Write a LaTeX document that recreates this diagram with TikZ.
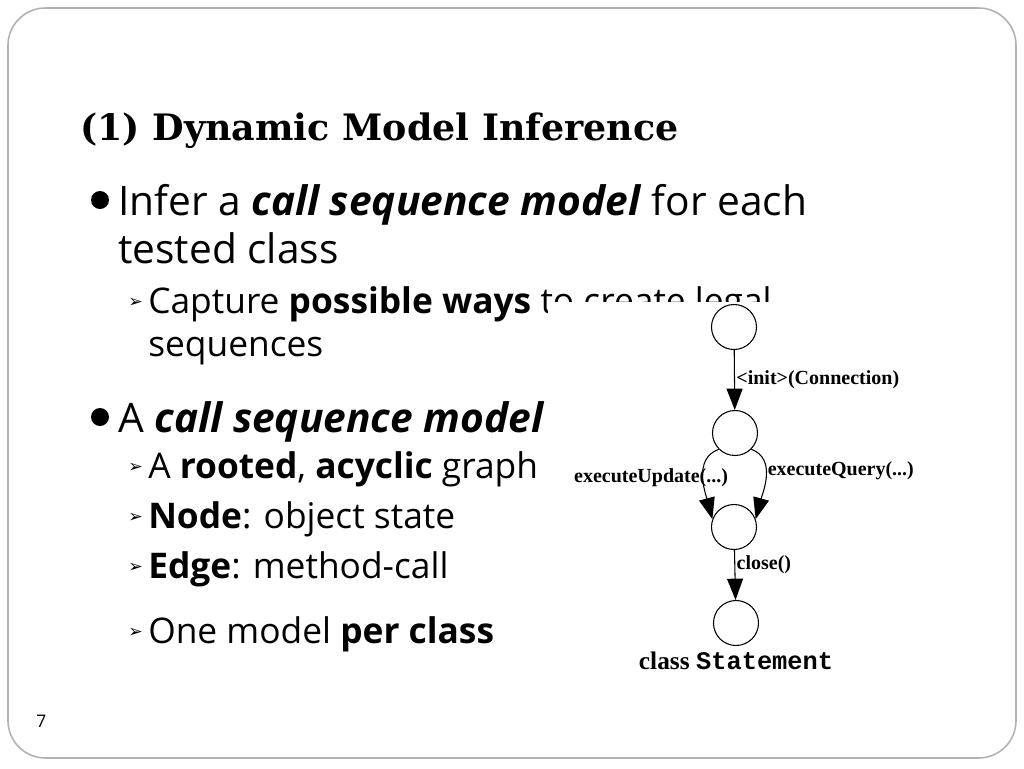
\documentclass[tikz,border=0pt]{standalone}
\usepackage{fontspec}
\setmainfont{Open Sans}
\newfontfamily\titlefont{DejaVu Serif}
\newfontfamily\figfont{Liberation Serif}
\newfontfamily\figmono{Liberation Mono}
\newfontfamily\symfont{DejaVu Sans}
\usetikzlibrary{arrows.meta,positioning}
\newlength{\px}\setlength{\px}{0.75pt}
\tikzset{
  txt/.style={anchor=base west, inner sep=0pt},
  state/.style={circle, draw, thick, minimum size=45\px, inner sep=0pt},
  edge/.style={thick, -{Triangle[length=16pt,width=12pt]}},
  lbl/.style={font=\figfont\bfseries\fontsize{15}{17}\selectfont, inner sep=1pt},
}
\newcommand{\mainsize}{\fontsize{30.5}{36}\selectfont}
\newcommand{\subsize}{\fontsize{26.5}{31}\selectfont}
\newcommand{\subarrow}{{\symfont\fontsize{13}{15}\selectfont ➢}}
\begin{document}
\begin{tikzpicture}[x=0.75pt,y=-0.75pt]
\useasboundingbox (0,0) rectangle (1024,768);
% slide frame
\draw[gray!60, line width=1.2pt, rounded corners=28pt] (8,8) rectangle (1016,758);
\node[txt, font=\titlefont\bfseries\fontsize{27.3}{32}\selectfont] (title) at (80,140) {(1) Dynamic Model Inference};
% bullets
\fill (100,200) circle (9);
\node[txt, font=\mainsize] (b1) at (118,215) {Infer a \textbf{\textit{call sequence model}} for each};
\node[txt, font=\mainsize] (b1b) at (118,263) {tested class};
\node[txt, font=\subsize] (s1) at (148,313) {Capture \textbf{possible ways} to create legal};
\node[txt, font=\subsize] (s1b) at (148,356) {sequences};
\fill (100,417) circle (9);
\node[txt, font=\mainsize] (b2) at (118,432) {A \textbf{\textit{call sequence model}} is};
\node[txt, font=\subsize] (s2) at (148,478) {A \textbf{rooted}, \textbf{acyclic} graph};
\node[txt, font=\subsize] (s3) at (148,528) {\textbf{Node}: object state};
\node[txt, font=\subsize] (s4) at (148,578) {\textbf{Edge}: method-call};
\node[txt, font=\subsize] (s5) at (148,643) {One model \textbf{per class}};
\foreach \y in {307,472,522,572,637}
  \node[txt] at (128,\y) {\subarrow};
\node[txt, font=\fontsize{13}{15}\selectfont] (page) at (36,727) {7};
% figure
\fill[white] (548,302) rectangle (962,682);
\node[state] (n1) at (734,327) {};
\node[state] (n2) at (735,433) {};
\node[state] (n3) at (734,527) {};
\node[state] (n4) at (736,623) {};
\draw[edge] (n1) -- node[lbl, right, pos=0.5] {<init>(Connection)} (n2);
\draw[edge] (n2.225) to[out=200,in=105] node[lbl, left, pos=0.5, xshift=20pt] {executeUpdate(...)} (n3.160);
\draw[edge] (n2.315) to[out=340,in=75] node[lbl, right, pos=0.4] {executeQuery(...)} (n3.20);
\draw[edge] (n3) -- node[lbl, right, pos=0.3] {close()} (n4);
\node[below=1pt of n4, font=\fontsize{19}{22}\selectfont\bfseries] (cap) {{\figfont class} {\figmono Statement}};
\end{tikzpicture}
\end{document}
